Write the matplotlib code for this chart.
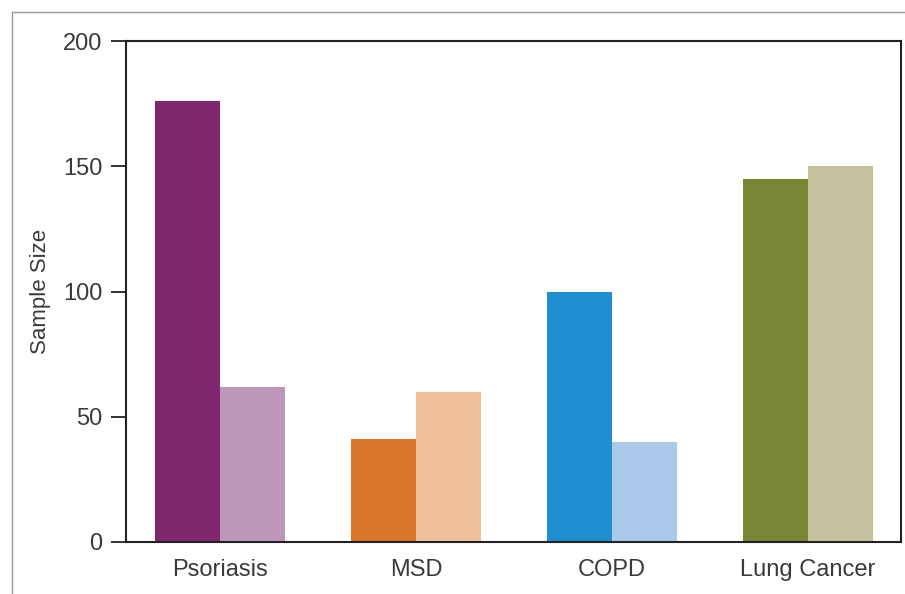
import numpy as np
import matplotlib.pyplot as plt
from matplotlib.lines import Line2D

categories = ["Psoriasis", "MSD", "COPD", "Lung Cancer"]
first_values = [176, 41, 100, 145]
second_values = [62, 60, 40, 150]
dark_colors = ["#80266F", "#D9762B", "#1F8FD2", "#7A8535"]
light_colors = ["#BC97BB", "#F0C29C", "#A9C8EA", "#C3C29C"]

W, H = 905, 594
fig = plt.figure(figsize=(W / 100, H / 100), dpi=100)
ax = fig.add_axes([126 / W, 1 - 542 / H, (901 - 126) / W, (542 - 41) / H])

x = np.arange(len(categories))
bw = 0.332
ax.bar(x - bw / 2, first_values, bw, color=dark_colors)
ax.bar(x + bw / 2, second_values, bw, color=light_colors)

ax.set_xlim(-0.48, 3.475)
ax.set_ylim(0, 200)
ax.set_yticks([0, 50, 100, 150, 200])
ax.set_xticks(x)
ax.set_xticklabels(categories)

txt = "#3a3a3a"
ax.tick_params(axis="y", length=11, width=1.3, colors="#222222", labelcolor=txt,
               labelsize=17, pad=6)
ax.tick_params(axis="x", length=0, labelcolor=txt, labelsize=17, pad=12)
for lab in ax.get_xticklabels() + ax.get_yticklabels():
    lab.set_fontfamily("Liberation Sans")
for s in ax.spines.values():
    s.set_linewidth(1.5)
    s.set_color("#222222")

ax.set_ylabel("Sample Size", fontsize=16, color=txt, family="Liberation Sans", labelpad=9)

# thin grey frame around the figure
fig.add_artist(Line2D([12 / W, 1], [1 - 12 / H, 1 - 12 / H], color="#999999", lw=1))
fig.add_artist(Line2D([12 / W, 12 / W], [0, 1 - 12 / H], color="#999999", lw=1))

fig.savefig("out.png", dpi=100)
